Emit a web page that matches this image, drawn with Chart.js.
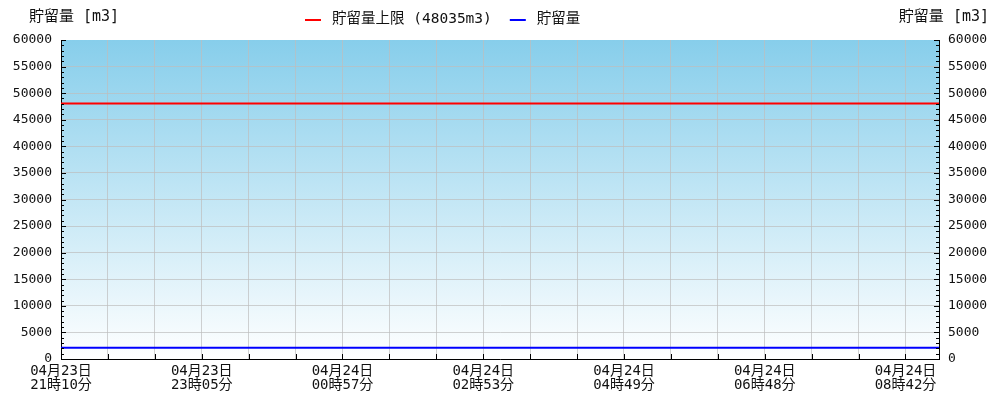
<!DOCTYPE html>
<html>
<head>
<meta charset="utf-8">
<script src="https://cdn.jsdelivr.net/npm/chart.js@4/dist/chart.umd.min.js"></script>
<style>
  html, body { margin: 0; padding: 0; background: #fff; }
  #wrap { width: 1000px; height: 400px; }
</style>
</head>
<body>
<div id="wrap"><canvas id="myChart"></canvas></div>
<script>
const FONT = "'DejaVu Sans Mono', 'Noto Sans CJK JP', monospace";

// sample number of each point, time labels every 21 samples
const sampleIndex = [0, 21, 42, 63, 84, 105, 126, 131];
const timeLabels = [
    ['04月23日', '21時10分'],
    ['04月23日', '23時05分'],
    ['04月24日', '00時57分'],
    ['04月24日', '02時53分'],
    ['04月24日', '04時49分'],
    ['04月24日', '06時48分'],
    ['04月24日', '08時42分']
];
const storageValues = [2100, 2100, 2100, 2100, 2100, 2100, 2100, 2100];
const limitValues = [48035, 48035, 48035, 48035, 48035, 48035, 48035, 48035];
const yTicks = [0, 5000, 10000, 15000, 20000, 25000, 30000, 35000, 40000, 45000, 50000, 55000, 60000];

const toPoints = vals => vals.map((v, i) => ({ x: sampleIndex[i], y: v }));
const GRID = 'rgba(190,190,190,0.7)';

// sky gradient behind the plot
const bgPlugin = {
    id: 'bg',
    beforeDraw(chart) {
        const { ctx, chartArea: a } = chart;
        const g = ctx.createLinearGradient(0, a.top, 0, a.bottom);
        g.addColorStop(0, '#87ceeb');
        g.addColorStop(1, '#ffffff');
        ctx.save();
        ctx.fillStyle = g;
        ctx.fillRect(a.left, a.top, a.right - a.left, a.bottom - a.top);
        ctx.restore();
    }
};

// tick marks pointing into the plot, axis titles and legend on top
const marksPlugin = {
    id: 'marks',
    afterDraw(chart) {
        const { ctx, chartArea: a, scales } = chart;
        ctx.save();
        ctx.strokeStyle = '#000';
        ctx.lineWidth = 1;
        ctx.beginPath();
        scales.x.ticks.forEach(t => {
            const px = Math.round(scales.x.getPixelForValue(t.value)) + 0.5;
            ctx.moveTo(px, a.bottom);
            ctx.lineTo(px, a.bottom - 5);
        });
        for (let v = 0; v <= 60000; v += 1000) {
            const len = v % 5000 === 0 ? 5 : 3;
            const py = Math.round(scales.y.getPixelForValue(v)) + 0.5;
            ctx.moveTo(a.left, py);
            ctx.lineTo(a.left + len, py);
            ctx.moveTo(a.right, py);
            ctx.lineTo(a.right - len, py);
        }
        ctx.stroke();

        ctx.fillStyle = '#111';
        ctx.font = '15px ' + FONT;
        ctx.textBaseline = 'middle';
        ctx.textAlign = 'left';
        ctx.fillText('貯留量 [m3]', 29, 17);
        ctx.textAlign = 'right';
        ctx.fillText('貯留量 [m3]', 989, 17);

        // legend
        ctx.font = '14.5px ' + FONT;
        ctx.textAlign = 'left';
        let x = 305;
        chart.data.datasets.forEach(ds => {
            ctx.strokeStyle = ds.borderColor;
            ctx.lineWidth = 2;
            ctx.beginPath();
            ctx.moveTo(x, 20);
            ctx.lineTo(x + 16, 20);
            ctx.stroke();
            ctx.fillText(ds.label, x + 27, 19);
            x += 27 + ctx.measureText(ds.label).width + 18;
        });
        ctx.restore();
    }
};

const ctx = document.getElementById('myChart').getContext('2d');
const chart = new Chart(ctx, {
    type: 'line',
    data: {
        datasets: [{
            label: '貯留量上限 (48035m3)',
            data: toPoints(limitValues),
            borderColor: '#ff0000',
            borderWidth: 2,
            pointRadius: 0,
            yAxisID: 'y'
        }, {
            label: '貯留量',
            data: toPoints(storageValues),
            borderColor: '#0000ff',
            borderWidth: 2,
            pointRadius: 0,
            yAxisID: 'y'
        }]
    },
    options: {
        responsive: true,
        maintainAspectRatio: false,
        animation: false,
        layout: { padding: { top: 40, left: 0, right: 0, bottom: 0 } },
        plugins: {
            tooltip: { enabled: false },
            legend: { display: false }
        },
        scales: {
            x: {
                type: 'linear',
                min: 0,
                max: 131,
                afterFit(s) { s.height = 41; },
                afterBuildTicks(s) {
                    const t = [];
                    for (let i = 0; i <= 126; i += 7) t.push({ value: i });
                    s.ticks = t;
                },
                grid: { color: GRID, drawTicks: false },
                border: { color: '#000' },
                ticks: {
                    autoSkip: false,
                    maxRotation: 0,
                    padding: 5,
                    color: '#111',
                    font: { family: FONT, size: 14, lineHeight: 1 },
                    callback: v => (v % 21 === 0 ? timeLabels[v / 21] : '')
                }
            },
            y: {
                position: 'left',
                min: 0,
                max: 60000,
                afterFit(s) { s.width = 61; },
                afterBuildTicks(s) { s.ticks = yTicks.map(v => ({ value: v })); },
                grid: {
                    color: c => (c.tick && c.tick.value === 60000 ? 'rgba(0,0,0,0)' : GRID),
                    drawTicks: false
                },
                border: { color: '#000' },
                ticks: {
                    padding: 9, color: '#111', font: { family: FONT, size: 13 },
                    callback: v => String(v)
                }
            },
            y2: {
                position: 'right',
                min: 0,
                max: 60000,
                afterFit(s) { s.width = 61; },
                afterBuildTicks(s) { s.ticks = yTicks.map(v => ({ value: v })); },
                grid: { drawOnChartArea: false, drawTicks: false },
                border: { color: '#000' },
                ticks: {
                    padding: 9, color: '#111', font: { family: FONT, size: 13 },
                    callback: v => String(v)
                }
            }
        }
    },
    plugins: [bgPlugin, marksPlugin]
});
</script>
</body>
</html>
